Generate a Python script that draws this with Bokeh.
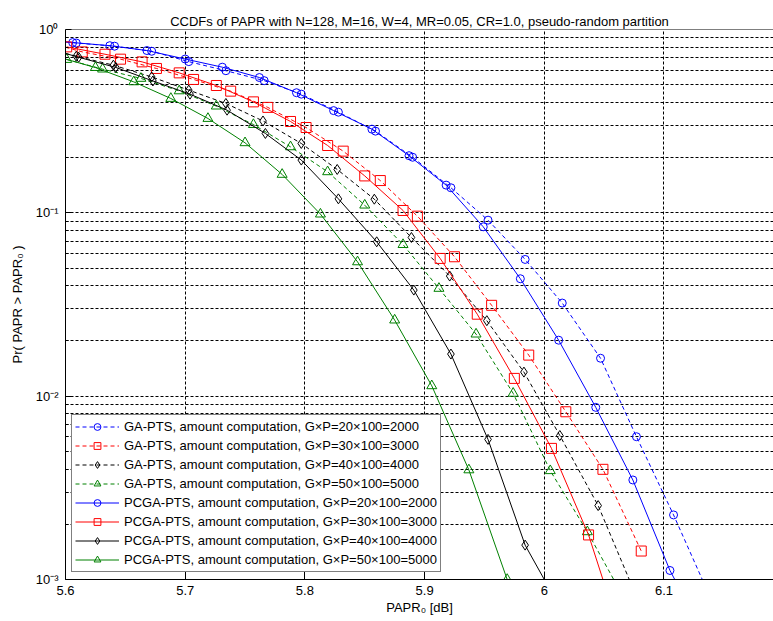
from bokeh.plotting import figure
from bokeh.models import (Range1d, FixedTicker, CustomJSTickFormatter,
                          Legend, LegendItem, Span)
from bokeh.embed import file_html
from bokeh.resources import INLINE

title_text = "CCDFs of PAPR with N=128, M=16, W=4, MR=0.05, CR=1.0, pseudo-random partition"
x_label = "PAPR\u2080 [dB]"
y_label = "Pr( PAPR > PAPR\u2080 )"
x_ticks = [5.6, 5.7, 5.8, 5.9, 6.0, 6.1, 6.2]
y_ticks = [0.001, 0.01, 0.1, 1.0]

labels = [
    "GA-PTS, amount computation, G\u00d7P=20\u00d7100=2000",
    "GA-PTS, amount computation, G\u00d7P=30\u00d7100=3000",
    "GA-PTS, amount computation, G\u00d7P=40\u00d7100=4000",
    "GA-PTS, amount computation, G\u00d7P=50\u00d7100=5000",
    "PCGA-PTS, amount computation, G\u00d7P=20\u00d7100=2000",
    "PCGA-PTS, amount computation, G\u00d7P=30\u00d7100=3000",
    "PCGA-PTS, amount computation, G\u00d7P=40\u00d7100=4000",
    "PCGA-PTS, amount computation, G\u00d7P=50\u00d7100=5000",
]

# ---- GA-PTS (dashed) ----
ga20_x = [5.609, 5.641, 5.672, 5.703, 5.734, 5.766, 5.797, 5.828, 5.859, 5.890, 5.922, 5.953, 5.984, 6.015, 6.047, 6.077, 6.108]
ga20_y = [0.844, 0.811, 0.761, 0.668, 0.596, 0.526, 0.444, 0.354, 0.279, 0.201, 0.137, 0.0912, 0.0557, 0.0322, 0.0161, 0.00601, 0.00225]
ga20_start = (5.6, 0.855)
ga20_end = (6.132, 0.001)

ga30_x = [5.614, 5.646, 5.676, 5.707, 5.738, 5.769, 5.801, 5.832, 5.863, 5.894, 5.925, 5.956, 5.987, 6.018, 6.049, 6.081]
ga30_y = [0.755, 0.689, 0.613, 0.534, 0.461, 0.376, 0.292, 0.217, 0.150, 0.0959, 0.0576, 0.0313, 0.01675, 0.00822, 0.00399, 0.00143]
ga30_start = (5.6, 0.80)
ga30_end = None

ga40_x = [5.609, 5.640, 5.672, 5.703, 5.734, 5.765, 5.797, 5.827, 5.858, 5.889, 5.921, 5.952, 5.983, 6.013, 6.045]
ga40_y = [0.715, 0.639, 0.551, 0.467, 0.395, 0.317, 0.239, 0.1724, 0.1187, 0.0734, 0.0452, 0.0258, 0.01353, 0.0061, 0.00253]
ga40_start = (5.6, 0.74)
ga40_end = (6.071, 0.001)

ga50_x = [5.601, 5.631, 5.663, 5.695, 5.726, 5.757, 5.788, 5.819, 5.850, 5.882, 5.912, 5.943, 5.974, 6.005, 6.036]
ga50_y = [0.686, 0.608, 0.541, 0.4625, 0.382, 0.303, 0.229, 0.1674, 0.1101, 0.0671, 0.0387, 0.0218, 0.01036, 0.00392, 0.00182]
ga50_start = None
ga50_end = (6.058, 0.001)

# ---- PCGA-PTS (solid) ----
pc20_x = [5.606, 5.637, 5.668, 5.700, 5.731, 5.762, 5.793, 5.824, 5.856, 5.887, 5.918, 5.949, 5.980, 6.012, 6.043, 6.074, 6.105]
pc20_y = [0.849, 0.816, 0.768, 0.690, 0.623, 0.547, 0.452, 0.361, 0.286, 0.205, 0.1416, 0.0839, 0.0437, 0.0202, 0.00869, 0.00349, 0.00112]
pc20_start = (5.6, 0.855)
pc20_end = (6.109, 0.001)

pc30_x = [5.601, 5.633, 5.664, 5.695, 5.726, 5.757, 5.788, 5.819, 5.850, 5.882, 5.913, 5.944, 5.975, 6.006, 6.037]
pc30_y = [0.804, 0.733, 0.666, 0.580, 0.495, 0.403, 0.315, 0.233, 0.159, 0.103, 0.0564, 0.0280, 0.0125, 0.00519, 0.00175]
pc30_start = None
pc30_end = (6.049, 0.001)

pc40_x = [5.611, 5.642, 5.673, 5.704, 5.735, 5.767, 5.797, 5.828, 5.860, 5.891, 5.922, 5.953, 5.984]
pc40_y = [0.706, 0.621, 0.524, 0.444, 0.363, 0.271, 0.194, 0.1192, 0.0695, 0.0379, 0.01697, 0.00581, 0.00154]
pc40_start = (5.6, 0.74)
pc40_end = (6.0, 0.001)

pc50_x = [5.625, 5.657, 5.688, 5.719, 5.750, 5.781, 5.813, 5.844, 5.875, 5.906, 5.937, 5.969]
pc50_y = [0.62, 0.518, 0.4205, 0.327, 0.241, 0.162, 0.0984, 0.0540, 0.0260, 0.01139, 0.00396, 0.001]
pc50_start = (5.6, 0.69)
pc50_end = None

colors = ["blue", "red", "black", "#008000"]
markers = ["circle", "square", "diamond", "triangle"]
marker_sizes = [8, 10, 10, 10]

series = [
    (ga20_x, ga20_y, ga20_start, ga20_end),
    (ga30_x, ga30_y, ga30_start, ga30_end),
    (ga40_x, ga40_y, ga40_start, ga40_end),
    (ga50_x, ga50_y, ga50_start, ga50_end),
    (pc20_x, pc20_y, pc20_start, pc20_end),
    (pc30_x, pc30_y, pc30_start, pc30_end),
    (pc40_x, pc40_y, pc40_start, pc40_end),
    (pc50_x, pc50_y, pc50_start, pc50_end),
]

FONT = "Liberation Sans"

p = figure(width=773, height=621,
           x_range=Range1d(5.6, 6.1915), y_range=Range1d(1e-3, 1.0),
           y_axis_type="log", output_backend="svg", toolbar_location=None,
           min_border_left=65, min_border_right=0, min_border_top=29, min_border_bottom=42,
           title=title_text)
p.background_fill_color = "white"
p.border_fill_color = "white"
p.outline_line_color = None

p.title.text_font = FONT
p.title.text_font_size = "13px"
p.title.text_font_style = "normal"
p.title.text_color = "black"
p.title.align = "center"
p.title.vertical_align = "middle"
p.title.standoff = 0

# x axis
xa = p.xaxis[0]
xa.ticker = FixedTicker(ticks=x_ticks)
xa.formatter = CustomJSTickFormatter(code="return (Math.round(tick*10)/10).toString();")
xa.axis_label = x_label

# y axis
minor = [m * t for t in y_ticks[:-1] for m in range(2, 10)]
ya = p.yaxis[0]
ya.ticker = FixedTicker(ticks=y_ticks, minor_ticks=minor)
ya.formatter = CustomJSTickFormatter(code="""
const e = Math.round(Math.log10(tick));
const sup = {"-":"\u207b","0":"\u2070","1":"\u00b9","2":"\u00b2","3":"\u00b3","4":"\u2074","5":"\u2075","6":"\u2076","7":"\u2077","8":"\u2078","9":"\u2079"};
return "10" + String(e).split("").map(c => sup[c]).join("");
""")
ya.axis_label = y_label

for ax in (xa, ya):
    ax.axis_line_color = "black"
    ax.axis_line_width = 1
    ax.major_tick_in = 6
    ax.major_tick_out = 0
    ax.minor_tick_in = 3
    ax.minor_tick_out = 0
    ax.major_tick_line_color = "black"
    ax.minor_tick_line_color = "black"
    ax.major_label_text_font = FONT
    ax.major_label_text_font_size = "13px"
    ax.major_label_text_color = "black"
    ax.axis_label_text_font = FONT
    ax.axis_label_text_font_size = "13px"
    ax.axis_label_text_font_style = "normal"
    ax.axis_label_text_color = "black"
xa.minor_tick_line_color = None
xa.major_label_standoff = 6
xa.axis_label_standoff = 2
ya.major_label_standoff = 7
ya.axis_label_standoff = 8

# top border of the axes box
p.add_layout(Span(location=1.0, dimension="width", line_color="black", line_width=1))

for g in (p.xgrid[0], p.ygrid[0]):
    g.grid_line_color = "black"
    g.grid_line_dash = "3 2"
    g.grid_line_width = 1
p.ygrid[0].minor_grid_line_color = "black"
p.ygrid[0].minor_grid_line_dash = "3 2"

items = []
for i, (xs, ys, st, en) in enumerate(series):
    k = i % 4
    c = colors[k]
    dash = "4 3" if i < 4 else "solid"
    lx = ([st[0]] if st else []) + list(xs) + ([en[0]] if en else [])
    ly = ([st[1]] if st else []) + list(ys) + ([en[1]] if en else [])
    ln = p.line(lx, ly, line_color=c, line_width=1, line_dash=dash)
    sc = p.scatter(xs, ys, marker=markers[k], size=marker_sizes[k],
                   line_color=c, fill_color=None, line_width=1)
    items.append(LegendItem(label=labels[i], renderers=[ln, sc]))

legend = Legend(items=items, location=(6, 7), margin=0, padding=3,
                spacing=2, label_height=17, glyph_height=17, glyph_width=44,
                label_standoff=5, label_text_font=FONT, label_text_font_size="13px",
                label_text_color="black", border_line_color="black", border_line_width=1,
                background_fill_color="white", background_fill_alpha=1.0)
p.add_layout(legend, "center")

open("out.html", "w").write(file_html(p, INLINE))
